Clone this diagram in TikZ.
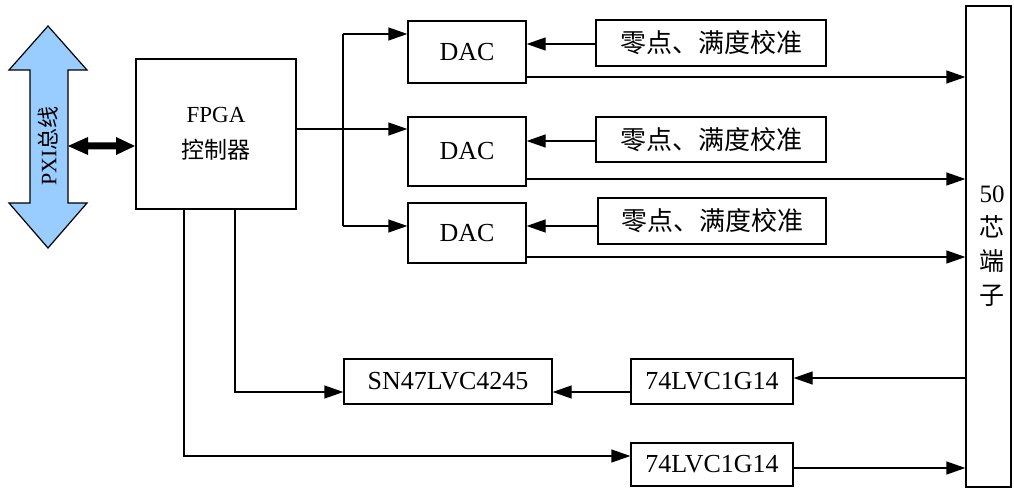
\documentclass[tikz,border=0pt]{standalone}
\usepackage{fontspec}
\setmainfont{Liberation Serif}
\newfontfamily\cjk{Noto Sans CJK SC}
\usetikzlibrary{arrows.meta}
\definecolor{busblue}{RGB}{153,204,255}
\tikzset{
  blk/.style={draw=black, line width=1.3pt, fill=white, inner sep=0pt, align=center, font=\fontsize{26}{30}\selectfont},
  conn/.style={line width=1.3pt},
  arr/.style={line width=1.3pt, -{Triangle[length=19pt,width=13pt]}},
}
\begin{document}
\begin{tikzpicture}[x=1pt,y=-1pt]
\useasboundingbox (0,0) rectangle (1014,489);

% PXI bus arrow
\path[draw=black, line width=1.2pt, fill=busblue]
  (48,26) -- (87,70) -- (68,70) -- (68,203) -- (87,203) -- (48,248)
  -- (9,203) -- (30,203) -- (30,70) -- (9,70) -- cycle;
\node[rotate=90, font=\fontsize{22}{24}\selectfont] (pxi) at (48,146) {PXI{\cjk 总线}};

% nodes
\node[blk, minimum width=160pt, minimum height=150pt, font=\fontsize{23}{36}\selectfont] (fpga) at (216,134) {FPGA\\{\cjk 控制器}};
\node[blk, minimum width=118pt, minimum height=62pt] (dac1) at (467,52) {DAC};
\node[blk, minimum width=118pt, minimum height=69pt] (dac2) at (467,151.5) {DAC};
\node[blk, minimum width=118pt, minimum height=60pt] (dac3) at (467,233) {DAC};
\node[blk, minimum width=230pt, minimum height=46pt] (cal1) at (711,43) {\cjk 零点、满度校准};
\node[blk, minimum width=230pt, minimum height=45pt] (cal2) at (711,139.5) {\cjk 零点、满度校准};
\node[blk, minimum width=228pt, minimum height=46pt] (cal3) at (712,221) {\cjk 零点、满度校准};
\node[blk, minimum width=45pt, minimum height=481pt] (term) at (988.5,246.5) {};
\node[align=center, inner sep=0pt, font=\fontsize{25}{34}\selectfont] (termtxt) at (992,246) {50\\{\cjk 芯}\\{\cjk 端}\\{\cjk 子}};
\node[blk, minimum width=208pt, minimum height=45pt] (sn) at (448,381.5) {SN47LVC4245};
\node[blk, minimum width=162pt, minimum height=45pt] (lvc1) at (712,381.5) {74LVC1G14};
\node[blk, minimum width=162pt, minimum height=43pt] (lvc2) at (712,464.5) {74LVC1G14};

% double arrow PXI <-> FPGA
\fill[black] (68,146) -- (88,137) -- (88,142.5) -- (116,142.5) -- (116,137) -- (135,146)
  -- (116,155) -- (116,149.5) -- (88,149.5) -- (88,155) -- cycle;

% FPGA -> DACs
\coordinate (jm) at (343,129);
\coordinate (jt) at (343,34);
\coordinate (jb) at (343,226);
\draw[arr] (fpga.east |- jm) -- (dac2.west |- jm);
\draw[conn] (jt) -- (jb);
\draw[arr] (jt) -- (dac1.west |- jt);
\draw[arr] (jb) -- (dac3.west |- jb);

% calibration -> DACs
\draw[arr] (cal1.west |- 0,44) -- (dac1.east |- 0,44);
\draw[arr] (cal2.west |- 0,141) -- (dac2.east |- 0,141);
\draw[arr] (cal3.west |- 0,226) -- (dac3.east |- 0,226);

% DAC outputs -> terminal
\draw[arr] (dac1.east |- 0,77) -- (term.west |- 0,77);
\draw[arr] (dac2.east |- 0,179) -- (term.west |- 0,179);
\draw[arr] (dac3.east |- 0,257) -- (term.west |- 0,257);

% lower paths
\draw[arr] (term.west |- 0,378) -- (lvc1.east |- 0,378);
\draw[arr] (lvc1.west |- 0,392) -- (sn.east |- 0,392);
\draw[arr] (fpga.south -| 235,0) -- (235,392) -- (sn.west |- 0,392);
\draw[arr] (fpga.south -| 184,0) -- (184,456) -- (lvc2.west |- 0,456);
\draw[arr] (lvc2.east |- 0,468) -- (term.west |- 0,468);
\end{tikzpicture}
\end{document}
